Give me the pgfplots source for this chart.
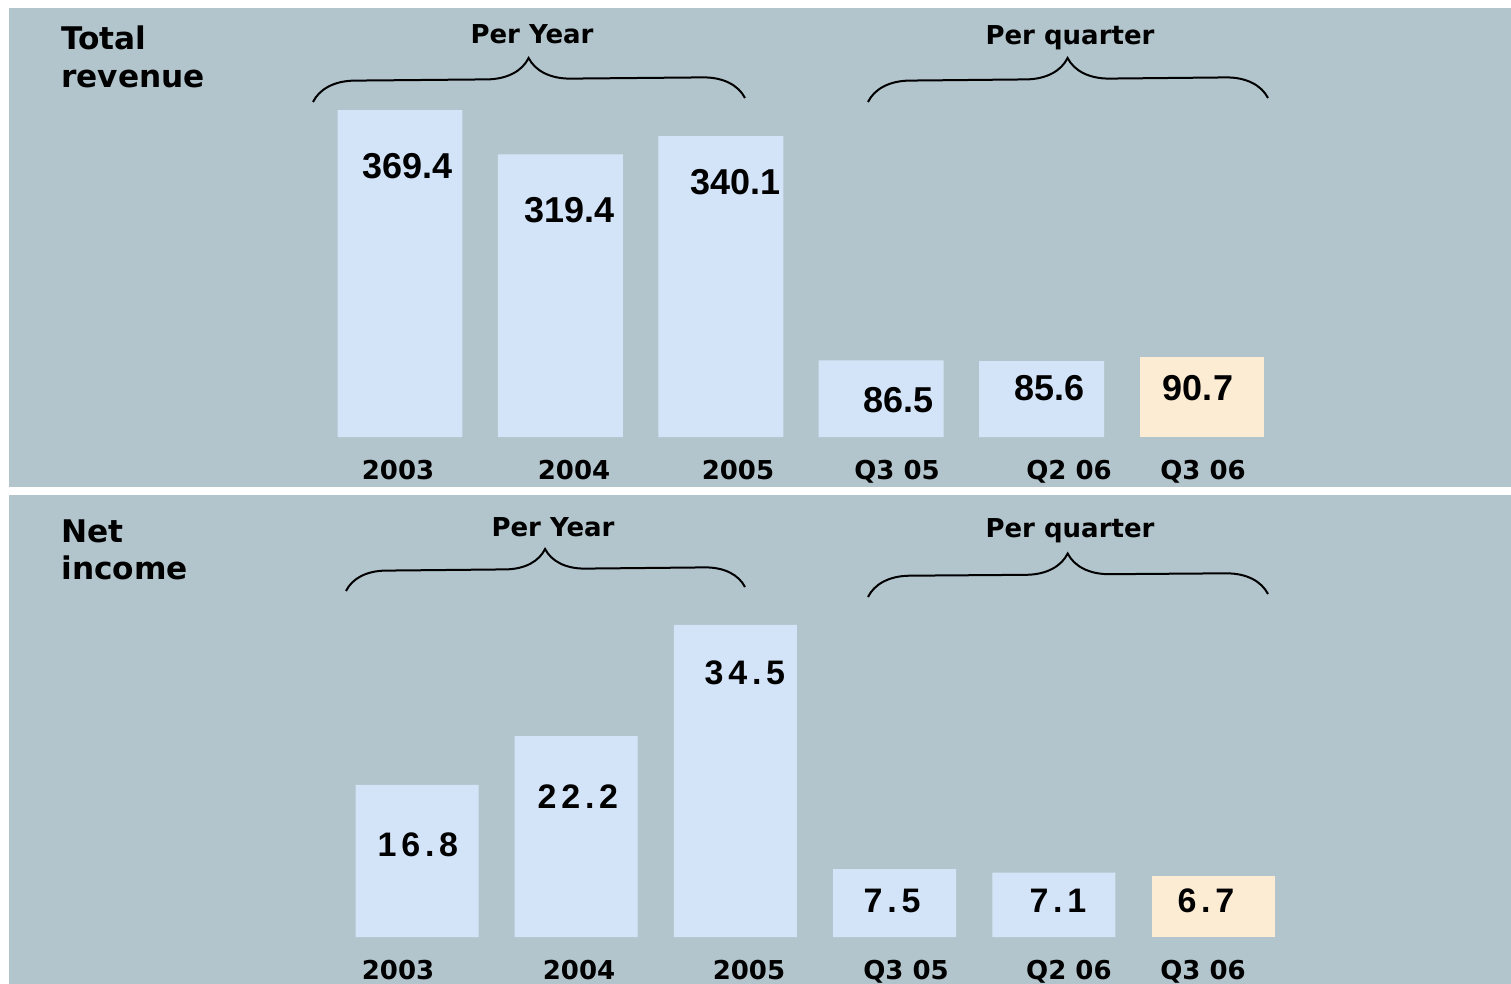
\documentclass[border=0pt]{standalone}
\usepackage{pgfplots}
\pgfplotsset{compat=1.18}
\usepackage{fontspec}
\usetikzlibrary{decorations.pathreplacing}
\newfontfamily\dvs{DejaVu Sans}
\newfontfamily\lib{Liberation Sans}
\newfontfamily\libsp{Liberation Sans}[LetterSpace=14]
\definecolor{panelbg}{RGB}{179,197,204}
\definecolor{barblue}{RGB}{212,228,248}
\definecolor{barbeige}{RGB}{252,236,212}
\newcommand{\titlefont}{\dvs\bfseries\fontsize{15.6}{18.5}\selectfont}
\newcommand{\labfont}{\dvs\bfseries\fontsize{13}{15}\selectfont}
\newcommand{\valfont}{\lib\bfseries\fontsize{18}{20}\selectfont}
\newcommand{\valspfont}{\libsp\bfseries\fontsize{17}{20}\selectfont}
\pgfplotsset{
  panel/.style={scale only axis, anchor=south west, width=500pt,
    axis line style={draw=none}, major tick length=0pt, ytick=\empty,
    clip=false, ymin=0,
    xticklabel style={font=\labfont, anchor=base, yshift=-21pt, inner sep=0pt}},
}
\begin{document}
\begin{tikzpicture}
\begin{scope}[x=0.5pt,y=-0.5pt]
\path[use as bounding box] (0,0) rectangle (1511,984);
\fill[panelbg] (9,8) rectangle (1511,487);
\fill[panelbg] (9,495) rectangle (1511,984);
\node[font=\titlefont, anchor=base west, inner sep=0pt] at (61,50) {Total};
\node[font=\titlefont, anchor=base west, inner sep=0pt] at (61,88) {revenue};
\node[font=\titlefont, anchor=base west, inner sep=0pt] at (61,542) {Net};
\node[font=\titlefont, anchor=base west, inner sep=0pt] at (61,579) {income};
\node[font=\labfont, anchor=base, inner sep=0pt] at (532,44) {Per Year};
\node[font=\labfont, anchor=base, inner sep=0pt] at (1070,45) {Per quarter};
\node[font=\labfont, anchor=base, inner sep=0pt] at (553,536) {Per Year};
\node[font=\labfont, anchor=base, inner sep=0pt] at (1070,537) {Per quarter};
\draw[line width=1pt, decorate, decoration={brace, amplitude=21pt}] (313,102) -- (745,98);
\draw[line width=1pt, decorate, decoration={brace, amplitude=21pt}] (868,102) -- (1268,98);
\draw[line width=1pt, decorate, decoration={brace, amplitude=20pt}] (346,591) -- (745,587);
\draw[line width=1pt, decorate, decoration={brace, amplitude=21pt}] (868,597) -- (1268,594);
\end{scope}
% Top: Total revenue
\begin{axis}[panel, at={(150pt,-218.5pt)}, height=177pt, ymax=400,
  xmin=-0.6234, xmax=5.6110,
  xtick={-0.0125,1.085,2.107,3.099,4.171,5.006},
  xticklabels={2003,2004,2005,Q3 05,Q2 06,Q3 06}]
\addplot[ybar, bar width=0.779, bar shift=0pt, fill=barblue, draw=none]
  coordinates {(0,369.4) (1,319.4) (2,340.1) (3,86.5) (4,85.6)};
\addplot[ybar, bar width=0.779, bar shift=0pt, fill=barbeige, draw=none]
  coordinates {(5,90.7)};
\node[font=\valfont] at (axis cs:0.044,306.2) {369.4};
\node[font=\valfont] at (axis cs:1.054,256.5) {319.4};
\node[font=\valfont] at (axis cs:2.089,288.1) {340.1};
\node[font=\valfont] at (axis cs:3.105,41.8) {86.5};
\node[font=\valfont] at (axis cs:4.052,55.4) {85.6};
\node[font=\valfont] at (axis cs:4.975,55.4) {90.7};
\end{axis}
% Bottom: Net income
\begin{axis}[panel, at={(150pt,-468.5pt)}, height=181pt, ymax=40,
  xmin=-0.7349, xmax=5.5465,
  xtick={-0.119,1.018,2.085,3.072,4.095,4.937},
  xticklabels={2003,2004,2005,Q3 05,Q2 06,Q3 06}]
\addplot[ybar, bar width=0.7726, bar shift=0pt, fill=barblue, draw=none]
  coordinates {(0,16.8) (1,22.2) (2,34.5) (3,7.5) (4,7.1)};
\addplot[ybar, bar width=0.7726, bar shift=0pt, fill=barbeige, draw=none]
  coordinates {(5,6.7)};
\node[font=\valspfont] at (axis cs:0.006,10.17) {16.8};
\node[font=\valspfont] at (axis cs:1.011,15.47) {22.2};
\node[font=\valspfont] at (axis cs:2.060,29.17) {34.5};
\node[font=\valspfont] at (axis cs:2.984,3.98) {7.5};
\node[font=\valspfont] at (axis cs:4.026,3.98) {7.1};
\node[font=\valspfont] at (axis cs:4.956,3.98) {6.7};
\end{axis}
\end{tikzpicture}
\end{document}
